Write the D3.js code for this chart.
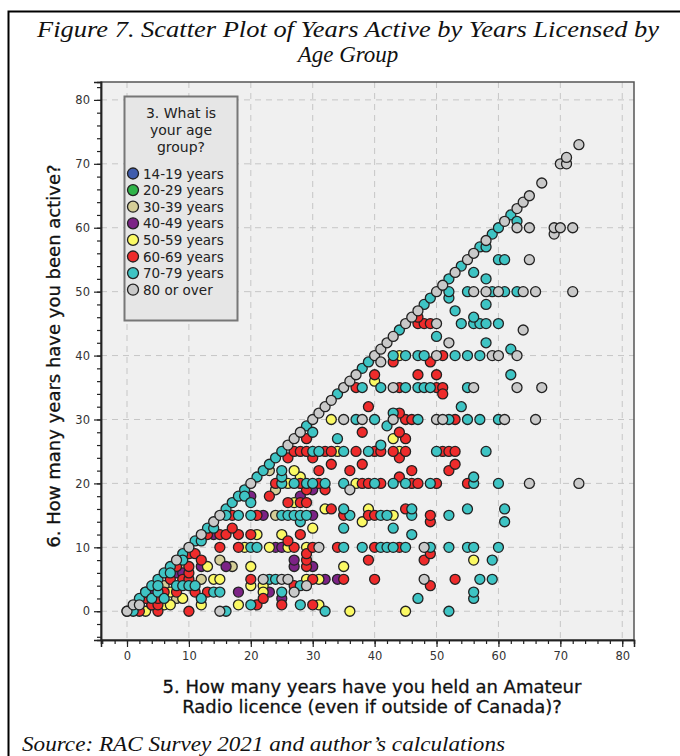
<!DOCTYPE html>
<html>
<head>
<meta charset="utf-8">
<script src="https://cdn.jsdelivr.net/npm/d3@7"></script>
<style>
  html, body { margin: 0; padding: 0; background: #fff; }
  svg { display: block; }
</style>
</head>
<body>
<svg id="chart" width="680" height="756"></svg>
<script>
// Age groups and their marker colours
const ageGroups = ["14-19 years", "20-29 years", "30-39 years", "40-49 years",
                   "50-59 years", "60-69 years", "70-79 years", "80 or over"];
const groupColors = ["#3f5cad", "#2fb348", "#d5ce97", "#7c2386",
                     "#fbf964", "#ee2b2b", "#3ec4c4", "#c9c9c9"];

// [years licensed, years active] per respondent, by age group
const age14to19 = [];
const age20to29 = [];
const age30to39 = [[8,2],[6,4],[12,5],[9,7],[17,7],[15,8],[24,15],[24,19],[23,22]];
const age40to49 = [[4,3],[25,2],[18,3],[23,3],[32,5],[34,5],[8,6],[9,6],[12,7],[16,7],[27,7],[30,7],
  [27,8],[24,10],[25,10],[14,12],[22,15],[30,15],[20,18],[28,18],[30,19]];
const age50to59 = [[3,0],[2,1],[4,1],[6,1],[7,1],[9,2],[7,3],[12,1],[18,1],[31,1],[36,0],[45,0],
  [20,4],[22,4],[22,3],[14,5],[15,5],[29,5],[31,5],[13,7],[20,7],[35,7],[56,8],
  [19,10],[23,10],[26,10],[29,10],[21,12],[25,12],[30,13],[38,14],
  [43,15],[32,16],[39,16],[27,17],[26,20],[37,20],[28,21],[27,22],
  [34,25],[44,25],[43,27],[33,30],[40,36],[44,40]];
const age60to69 = [[2,0],[5,0],[10,0],[4,1],[5,1],[3,2],[5,2],[6,3],[8,3],[7,5],[9,5],[10,5],[10,6],[8,7],[10,7],
  [10,9],[11,9],[12,8],[11,3],[13,3],[3,3],[13,12],
  [21,1],[25,1],[30,1],[22,2],[27,4],[49,4],[20,5],[30,5],[35,5],[40,5],[53,5],
  [29,7],[29,8],[29,9],[39,8],[48,8],[49,9],
  [15,10],[18,10],[27,10],[30,10],[34,10],[40,10],[44,10],[26,11],
  [15,12],[16,12],[18,12],[20,12],[28,12],[17,13],[49,14],
  [17,15],[21,15],[35,15],[39,15],[40,15],[49,15],[45,16],[33,16],
  [26,17],[28,17],[29,17],[23,18],[29,19],[32,19],
  [24,20],[28,20],[31,20],[38,20],[39,20],[41,20],[46,20],[47,20],[50,20],[55,20],
  [44,21],[31,22],[36,22],[46,22],[52,22],[33,23],[38,23],[53,23],[26,24],[30,24],[44,24],
  [27,25],[28,25],[29,25],[32,25],[33,25],[37,25],[40,25],[41,25],[43,25],[45,25],[51,25],[52,25],[53,25],
  [29,27],[45,27],[38,28],[44,28],[45,30],[46,30],[53,30],[44,31],[39,32],
  [37,35],[44,35],[50,35],[51,35],[51,34],[40,37],[47,37],[50,37],[43,39],[49,39],[51,40],
  [47,45],[48,45],[49,45],[47,46]];
const age70to79 = [[0,0],[2,2],[3,3],[4,4],[5,5],[6,6],[7,7],[9,9],[11,11],[13,13],[16,16],[17,17],
  [18,18],[19,19],[21,21],[22,22],[23,23],[24,24],[25,25],[29,29],[34,34],[38,38],[39,39],[44,44],
  [48,48],[49,49],[52,52],[54,54],[57,57],[59,59],[60,60],[62,62],
  [1,0],[4,2],[5,3],[6,2],[5,4],[7,6],[9,8],[8,4],[9,4],[10,4],[11,4],[12,2],[14,3],[15,3],[16,0],
  [12,11],[14,13],[16,15],[19,18],
  [20,1],[23,5],[24,5],[25,3],[28,4],[28,1],[32,0],[52,0],[47,2],[56,2],[56,3],[57,5],[59,5],[59,8],
  [20,10],[21,10],[35,10],[38,10],[41,10],[42,10],[43,10],[45,10],[49,10],[52,10],[55,10],[56,10],[60,10],
  [46,12],[35,13],[43,13],[28,14],[61,14],
  [18,15],[20,15],[25,15],[26,15],[27,15],[28,15],[29,15],[36,15],[41,15],[42,15],[46,15],[52,15],
  [35,16],[46,16],[55,16],[61,16],[20,17],
  [25,20],[27,20],[29,20],[30,20],[32,20],[35,20],[40,20],[43,20],[45,20],[49,20],[56,20],[60,20],
  [25,21],[56,21],[25,22],[30,25],[31,25],[35,25],[39,25],[50,25],[58,25],
  [41,26],[34,27],[30,28],[42,29],
  [37,30],[40,30],[47,30],[52,30],[55,30],[57,30],[60,30],[43,31],[54,32],
  [38,35],[41,35],[45,35],[47,35],[48,35],[49,35],[55,35],[62,37],
  [43,40],[45,40],[47,40],[48,40],[53,40],[55,40],[57,40],[62,41],[58,42],[50,43],
  [54,45],[56,45],[57,45],[58,45],[60,45],[56,46],[53,47],[58,48],
  [52,49],[52,50],[55,50],[59,50],[61,50],[63,50],[58,52],[56,53],[60,55],[61,55],[58,57],[63,61]];
const age80plus = [[0,0],[1,1],[8,8],[10,10],[12,12],[14,14],[15,15],[20,20],[26,26],[27,27],[28,28],
  [30,30],[31,31],[32,32],[33,33],[35,35],[36,36],[37,37],[40,40],[41,41],[42,42],[43,43],[45,45],
  [46,46],[47,47],[50,50],[51,51],[53,53],[55,55],[56,56],[58,58],[61,61],[63,63],[64,64],[65,65],
  [67,67],[70,70],[71,70],[71,71],[73,73],
  [2,1],[15,0],[27,3],[29,4],[22,5],[25,5],[26,5],[48,5],[31,10],[48,10],[36,19],[65,20],[73,20],
  [35,30],[38,30],[43,30],[50,30],[51,30],[61,30],[66,30],
  [43,35],[56,35],[63,35],[67,35],[41,39],
  [50,40],[59,40],[60,40],[63,40],[52,42],[64,44],[50,45],
  [56,50],[58,50],[60,50],[64,50],[66,50],[72,50],[65,55],
  [69,59],[63,60],[65,60],[69,60],[70,60],[72,60]];

const majorTicks = [0, 10, 20, 30, 40, 50, 60, 70, 80];
const xMinorTicks = d3.range(-4, 82, 2);
const yMinorTicks = d3.range(-4, 84, 2);

const titleLines = ["Figure 7. Scatter Plot of Years Active by Years Licensed by", "Age Group"];
const xTitleLines = ["5. How many years have you held an Amateur", "Radio licence (even if outside of Canada)?"];
const yTitle = "6. How many years have you been active?";
const legendTitleLines = ["3. What is", "your age", "group?"];
const sourceNote = "Source: RAC Survey 2021 and author\u2019s calculations";

const groupData = [age14to19, age20to29, age30to39, age40to49, age50to59, age60to69, age70to79, age80plus];

const svg = d3.select("#chart");

// Figure frame
svg.append("rect")
  .attr("x", 8.5).attr("y", 11.5).attr("width", 700).attr("height", 800)
  .attr("fill", "#fff").attr("stroke", "#000").attr("stroke-width", 2);

// Title
const serif = "'Liberation Serif', 'DejaVu Serif', serif";
svg.append("text").attr("x", 348).attr("y", 37)
  .attr("text-anchor", "middle").attr("font-family", serif).attr("font-style", "italic")
  .attr("font-size", 23).attr("fill", "#111")
  .attr("textLength", 622).attr("lengthAdjust", "spacingAndGlyphs")
  .text(titleLines[0]);
svg.append("text").attr("x", 348).attr("y", 62)
  .attr("text-anchor", "middle").attr("font-family", serif).attr("font-style", "italic")
  .attr("font-size", 23).attr("fill", "#111")
  .text(titleLines[1]);

// Plot area
const plot = { left: 101, right: 634, top: 82, bottom: 640 };
const x = d3.scaleLinear().domain([-4.2, 81.9]).range([plot.left, plot.right]);
const y = d3.scaleLinear().domain([-4.5, 82.8]).range([plot.bottom, plot.top]);

svg.append("rect")
  .attr("x", plot.left).attr("y", plot.top)
  .attr("width", plot.right - plot.left).attr("height", plot.bottom - plot.top)
  .attr("fill", "#f0f0f0");

// Dashed grid
const grid = svg.append("g").attr("stroke", "#c6c6c6").attr("stroke-width", 1)
  .attr("stroke-dasharray", "6,5");
grid.selectAll("line.v").data(majorTicks).join("line").attr("class", "v")
  .attr("x1", d => x(d)).attr("x2", d => x(d))
  .attr("y1", plot.top).attr("y2", plot.bottom);
grid.selectAll("line.h").data(majorTicks).join("line").attr("class", "h")
  .attr("y1", d => y(d)).attr("y2", d => y(d))
  .attr("x1", plot.left).attr("x2", plot.right);

svg.append("rect")
  .attr("x", plot.left).attr("y", plot.top)
  .attr("width", plot.right - plot.left).attr("height", plot.bottom - plot.top)
  .attr("fill", "none").attr("stroke", "#555").attr("stroke-width", 1.5);

// Axes
const sans = "'DejaVu Sans', sans-serif";
function styleAxis(g) {
  g.select(".domain").attr("stroke", "#222").attr("stroke-width", 1.5);
  g.selectAll(".tick line").attr("stroke", "#222").attr("stroke-width", 1.2);
  g.selectAll(".tick text").attr("font-family", sans).attr("font-size", 11.5).attr("fill", "#333");
}
svg.append("g").attr("transform", `translate(0,${plot.bottom})`)
  .call(d3.axisBottom(x).tickValues(xMinorTicks).tickSize(4).tickFormat(""))
  .call(styleAxis);
svg.append("g").attr("transform", `translate(0,${plot.bottom})`)
  .call(d3.axisBottom(x).tickValues(majorTicks).tickSize(7).tickPadding(5).tickFormat(d3.format("d")))
  .call(styleAxis);
svg.append("g").attr("transform", `translate(${plot.left},0)`)
  .call(d3.axisLeft(y).tickValues(yMinorTicks).tickSize(4).tickFormat(""))
  .call(styleAxis);
svg.append("g").attr("transform", `translate(${plot.left},0)`)
  .call(d3.axisLeft(y).tickValues(majorTicks).tickSize(7).tickPadding(4).tickFormat(d3.format("d")))
  .call(styleAxis);

// Axis titles
svg.append("g").selectAll("text").data(xTitleLines).join("text")
  .attr("x", 372).attr("y", (d, i) => 693 + i * 20)
  .attr("text-anchor", "middle").attr("font-family", sans).attr("font-size", 18)
  .attr("fill", "#111").attr("stroke", "#111").attr("stroke-width", 0.3).text(d => d);
svg.append("text")
  .attr("transform", "translate(60,356) rotate(-90)")
  .attr("text-anchor", "middle").attr("font-family", sans).attr("font-size", 18)
  .attr("fill", "#111").attr("stroke", "#111").attr("stroke-width", 0.3).text(yTitle);

// Points
const points = [];
groupData.forEach((arr, gi) => arr.forEach(p => points.push({ g: gi, lic: p[0], act: p[1] })));
svg.append("g").selectAll("circle").data(points).join("circle")
  .attr("cx", d => x(d.lic)).attr("cy", d => y(d.act)).attr("r", 5)
  .attr("fill", d => groupColors[d.g])
  .attr("stroke", "#222").attr("stroke-width", 1.3);

// Legend
const legend = svg.append("g");
legend.append("rect").attr("x", 124.5).attr("y", 96.5).attr("width", 113).attr("height", 224)
  .attr("fill", "#e6e6e6").attr("stroke", "#777").attr("stroke-width", 2);
legend.selectAll("text.lt").data(legendTitleLines).join("text").attr("class", "lt")
  .attr("x", 181).attr("y", (d, i) => 118 + i * 17)
  .attr("text-anchor", "middle").attr("font-family", sans).attr("font-size", 14)
  .attr("fill", "#222").text(d => d);
const items = legend.selectAll("g.item").data(ageGroups).join("g").attr("class", "item")
  .attr("transform", (d, i) => `translate(133,${173.5 + i * 16.6})`);
items.append("circle").attr("r", 5.5)
  .attr("fill", (d, i) => groupColors[i]).attr("stroke", "#222").attr("stroke-width", 1.3);
items.append("text").attr("x", 10).attr("y", 5)
  .attr("font-family", sans).attr("font-size", 13.5).attr("fill", "#222").text(d => d);

// Source note
svg.append("text").attr("x", 22).attr("y", 751)
  .attr("font-family", serif).attr("font-style", "italic").attr("font-size", 20)
  .attr("fill", "#111").attr("textLength", 483).attr("lengthAdjust", "spacingAndGlyphs")
  .text(sourceNote);
</script>
</body>
</html>
